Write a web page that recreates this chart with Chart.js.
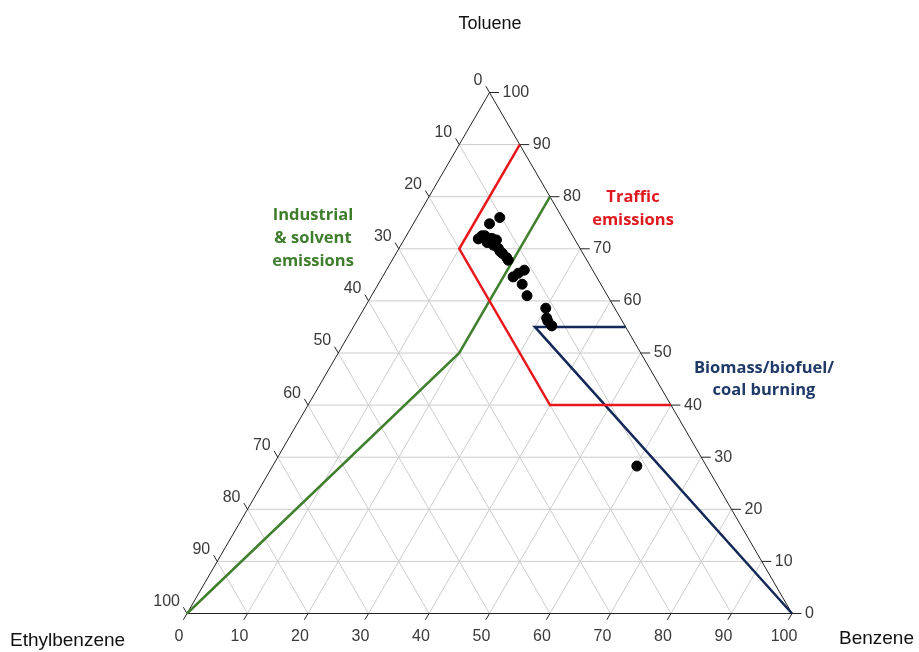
<!DOCTYPE html>
<html>
<head>
<meta charset="utf-8">
<script src="https://cdn.jsdelivr.net/npm/chart.js@4.4.1/dist/chart.umd.min.js"></script>
<style>
  body { margin: 0; background: #fff; }
</style>
</head>
<body>
<canvas id="grafico" width="919" height="652"></canvas>
<script>
// Muestras (porcentajes de cada compuesto)
const benzene      = [13.7, 12.6, 12.5, 13.0, 12.2, 14.4, 15.3, 14.0, 15.3, 16.4, 17.0, 17.6, 18.7, 19.2, 22.8, 22.1, 21.6, 23.8, 25.7, 30.0, 31.1, 31.6, 32.7, 60.2];
const toluene      = [76.0, 74.8, 72.5, 72.5, 71.9, 72.0, 71.7, 71.2, 70.7, 70.1, 69.5, 69.1, 68.3, 67.8, 65.9, 65.3, 64.6, 63.2, 61.0, 58.6, 56.7, 56.1, 55.2, 28.3];
const ethylbenzene = [10.3, 12.6, 15.0, 14.5, 15.9, 13.6, 13.0, 14.8, 14.0, 13.5, 13.5, 13.3, 13.0, 13.0, 11.3, 12.6, 13.8, 13.0, 13.3, 11.4, 12.2, 12.3, 12.1, 11.5];

// Zonas de fuentes (vertices en benceno / tolueno)
const traficoB = [10, 10, 40, 60];
const traficoT = [90, 70, 40, 40];
const industrialB = [0, 20, 20];
const industrialT = [0, 50, 80];
const biomasaB = [45, 30, 100];
const biomasaT = [55, 55, 0];

const ticks = [0, 10, 20, 30, 40, 50, 60, 70, 80, 90, 100];

// ternario -> cartesiano (x = B + T/2, y = T)
function tern(b, t) {
  return { x: b + t / 2, y: t };
}
const corte = { x: NaN, y: NaN };

// Rejilla
const rejilla = [];
ticks.slice(1, -1).forEach(v => {
  // tolueno constante (horizontal)
  rejilla.push(tern(0, v), tern(100 - v, v), corte);
  // benceno constante
  rejilla.push(tern(v, 0), tern(v, 100 - v), corte);
  // etilbenceno constante
  rejilla.push(tern(100 - v, 0), tern(0, 100 - v), corte);
});

const bordes = [tern(0, 0), tern(100, 0), tern(0, 100), tern(0, 0)];

// marcas de los ejes (en unidades de datos)
const L = 1.2;
const marcas = [];
ticks.forEach(v => {
  const pb = tern(v, 0);
  marcas.push(pb, { x: pb.x - L * 0.5, y: pb.y - L }, corte);
  const pt = tern(100 - v, v);
  marcas.push(pt, { x: pt.x + L * 1.3, y: pt.y }, corte);
  const pe = tern(0, 100 - v);
  marcas.push(pe, { x: pe.x - L * 0.5, y: pe.y + L }, corte);
});

const muestras = benzene.map((b, i) => tern(b, toluene[i]));

const textos = {
  id: 'textos',
  afterDraw(chart) {
    const { ctx, scales } = chart;
    const px = v => scales.x.getPixelForValue(v);
    const py = v => scales.y.getPixelForValue(v);
    ctx.save();
    ctx.fillStyle = '#3a3a3a';
    ctx.font = '16px "Liberation Sans", Arial, sans-serif';
    ctx.textBaseline = 'middle';
    ticks.forEach(v => {
      // benceno (abajo)
      const pb = tern(v, 0);
      ctx.textAlign = 'center';
      ctx.fillText(String(v), px(pb.x) - 8, py(pb.y) + 23);
      // tolueno (derecha)
      const pt = tern(100 - v, v);
      ctx.textAlign = 'left';
      ctx.fillText(String(v), px(pt.x) + 13, py(pt.y));
      // etilbenceno (izquierda)
      const pe = tern(0, 100 - v);
      ctx.textAlign = 'right';
      ctx.fillText(String(v), px(pe.x) - 7, py(pe.y) - 12);
    });

    ctx.fillStyle = '#111';
    ctx.font = '18px "Liberation Sans", Arial, sans-serif';
    ctx.textAlign = 'center';
    ctx.fillText('Toluene', 490, 24);
    ctx.font = '19px "Liberation Sans", Arial, sans-serif';
    ctx.textAlign = 'left';
    ctx.fillText('Ethylbenzene', 10, 641);
    ctx.fillText('Benzene', 839, 639);

    ctx.font = 'bold 16.5px "Open Sans", sans-serif';
    ctx.textAlign = 'center';
    ctx.fillStyle = '#e0191f';
    ctx.fillText('Traffic', 633, 197);
    ctx.fillText('emissions', 633, 220);
    ctx.fillStyle = '#3e7d2c';
    ctx.fillText('Industrial', 313, 215);
    ctx.fillText('& solvent', 313, 238);
    ctx.fillText('emissions', 313, 261);
    ctx.fillStyle = '#1f3a68';
    ctx.fillText('Biomass/biofuel/', 764, 368);
    ctx.fillText('coal burning', 764, 390);
    ctx.restore();
  }
};

const ctx = document.getElementById('grafico').getContext('2d');
new Chart(ctx, {
  type: 'scatter',
  data: {
    datasets: [
      {
        label: 'Muestras',
        data: muestras,
        backgroundColor: '#000',
        borderColor: '#000',
        pointRadius: 5,
        clip: false
      },
      {
        label: 'Traffic emissions',
        data: traficoB.map((b, i) => tern(b, traficoT[i])),
        showLine: true,
        borderColor: '#e8171c',
        borderWidth: 2.5,
        pointRadius: 0,
        clip: false
      },
      {
        label: 'Industrial & solvent emissions',
        data: industrialB.map((b, i) => tern(b, industrialT[i])),
        showLine: true,
        borderColor: '#3f7f2d',
        borderWidth: 2.5,
        pointRadius: 0,
        clip: false
      },
      {
        label: 'Biomass/biofuel/coal burning',
        data: biomasaB.map((b, i) => tern(b, biomasaT[i])),
        showLine: true,
        borderColor: '#14295a',
        borderWidth: 2.5,
        pointRadius: 0,
        clip: false
      },
      {
        label: 'bordes',
        data: bordes,
        showLine: true,
        borderColor: '#222',
        borderWidth: 1,
        pointRadius: 0,
        clip: false
      },
      {
        label: 'marcas',
        data: marcas,
        showLine: true,
        spanGaps: false,
        borderColor: '#222',
        borderWidth: 1,
        pointRadius: 0,
        clip: false
      },
      {
        label: 'rejilla',
        data: rejilla,
        showLine: true,
        spanGaps: false,
        borderColor: '#cccccc',
        borderWidth: 1,
        pointRadius: 0,
        clip: false
      }
    ]
  },
  options: {
    responsive: false,
    maintainAspectRatio: false,
    animation: false,
    layout: {
      padding: { left: 187, right: 127, top: 92.5, bottom: 38.5 }
    },
    scales: {
      x: { type: 'linear', min: 0, max: 100, display: false },
      y: { type: 'linear', min: 0, max: 100, display: false }
    },
    plugins: {
      legend: { display: false },
      tooltip: { enabled: false }
    }
  },
  plugins: [textos]
});
</script>
</body>
</html>
